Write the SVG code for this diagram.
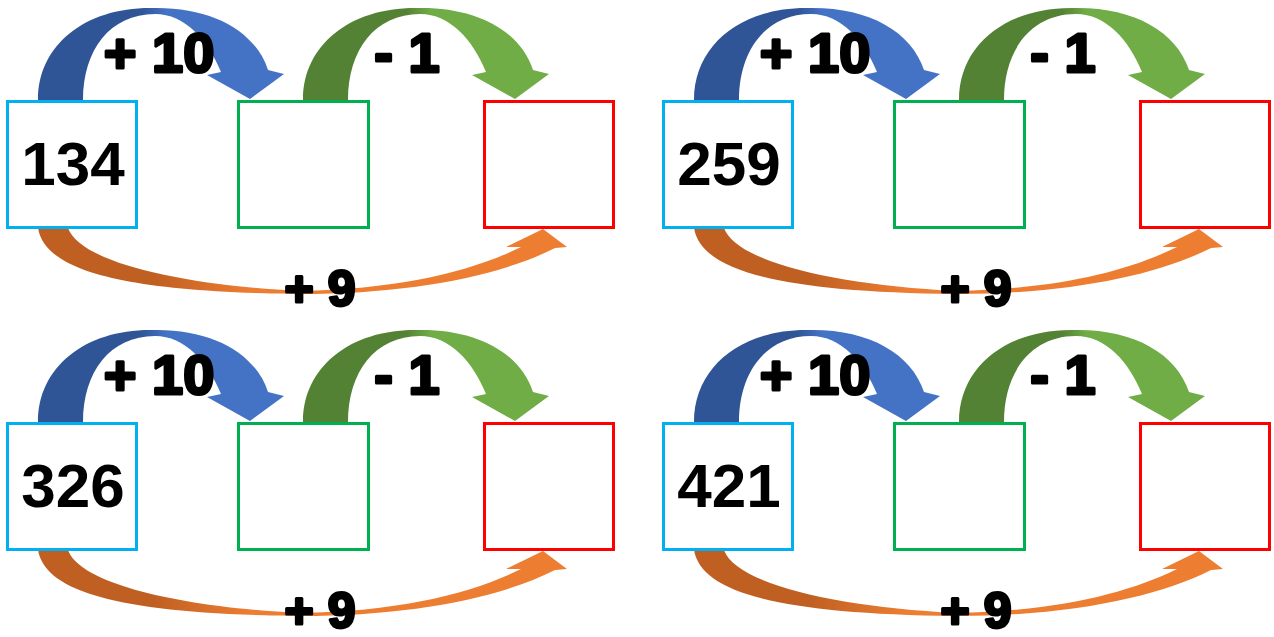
<svg xmlns="http://www.w3.org/2000/svg" xmlns:xlink="http://www.w3.org/1999/xlink" width="1274" height="637" viewBox="0 0 1274 637">
  <style>
    .box { fill: #ffffff; stroke-width: 3; }
    .b1 { stroke: #00B0F0; }
    .b2 { stroke: #00B050; }
    .b3 { stroke: #FF0000; }
    .num { font-family: "Liberation Sans", Arial, sans-serif; font-weight: bold; font-size: 62px; fill: #000000; text-anchor: middle; }
    .op { font-family: "Liberation Sans", Arial, sans-serif; font-weight: bold; fill: #000000; stroke: #000000; stroke-width: 3; stroke-linejoin: round; text-anchor: middle; }
    .op1 { font-size: 56px; }
    .op2 { font-size: 50px; }
  </style>
  <defs>
    <linearGradient id="gBlue" gradientUnits="userSpaceOnUse" x1="38" y1="0" x2="284" y2="0">
      <stop offset="0" stop-color="#2F5597"/>
      <stop offset="0.42" stop-color="#2F5597"/>
      <stop offset="0.52" stop-color="#4472C4"/>
      <stop offset="1" stop-color="#4472C4"/>
    </linearGradient>
    <linearGradient id="gGreen" gradientUnits="userSpaceOnUse" x1="38" y1="0" x2="284" y2="0">
      <stop offset="0" stop-color="#548235"/>
      <stop offset="0.42" stop-color="#548235"/>
      <stop offset="0.52" stop-color="#70AD47"/>
      <stop offset="1" stop-color="#70AD47"/>
    </linearGradient>
    <linearGradient id="gOrange" gradientUnits="userSpaceOnUse" x1="38" y1="0" x2="567" y2="0">
      <stop offset="0" stop-color="#C05F22"/>
      <stop offset="0.22" stop-color="#C05F22"/>
      <stop offset="0.4" stop-color="#ED7D31"/>
      <stop offset="1" stop-color="#ED7D31"/>
    </linearGradient>
    <path id="arcTop" d="M38,100 C38,45 85,8 150,8 C210,6 255,30 268,70 L284,74 L250,99 L207,75 L221,72 C208,40 185,14 155,14 C110,14 83,50 83,100 Z"/>
    <path id="arcBottom" d="M38,228 C45,270 120,292 300,294 C410,294 500,276 555,248 L567,247 L543,229 L506,247 L521,247 C470,272 400,289 300,291 C180,285 80,262 68,228 Z"/>
  </defs>
  <rect width="1274" height="637" fill="#ffffff"/>

  <g id="panel1">
    <g id="connectors1">
      <use xlink:href="#arcTop" fill="url(#gBlue)"/>
      <use xlink:href="#arcTop" x="265" fill="url(#gGreen)"/>
      <use xlink:href="#arcBottom" fill="url(#gOrange)"/>
      <text class="op op1" x="159" y="72">+ 10</text>
      <text class="op op1" x="407" y="72">- 1</text>
      <text class="op op2" x="320" y="306">+ 9</text>
    </g>
    <g id="p1-start"><rect class="box b1" x="7.5" y="101.5" width="129" height="126"/><text class="num" x="73" y="185">134</text></g>
    <g id="p1-middle"><rect class="box b2" x="238.5" y="101.5" width="130" height="126"/></g>
    <g id="p1-end"><rect class="box b3" x="484.5" y="101.5" width="129" height="126"/></g>
  </g>

  <g id="panel2" transform="translate(656,0)">
    <g id="connectors2">
      <use xlink:href="#arcTop" fill="url(#gBlue)"/>
      <use xlink:href="#arcTop" x="265" fill="url(#gGreen)"/>
      <use xlink:href="#arcBottom" fill="url(#gOrange)"/>
      <text class="op op1" x="159" y="72">+ 10</text>
      <text class="op op1" x="407" y="72">- 1</text>
      <text class="op op2" x="320" y="306">+ 9</text>
    </g>
    <g id="p2-start"><rect class="box b1" x="7.5" y="101.5" width="129" height="126"/><text class="num" x="73" y="185">259</text></g>
    <g id="p2-middle"><rect class="box b2" x="238.5" y="101.5" width="130" height="126"/></g>
    <g id="p2-end"><rect class="box b3" x="484.5" y="101.5" width="129" height="126"/></g>
  </g>

  <g id="panel3" transform="translate(0,322)">
    <g id="connectors3">
      <use xlink:href="#arcTop" fill="url(#gBlue)"/>
      <use xlink:href="#arcTop" x="265" fill="url(#gGreen)"/>
      <use xlink:href="#arcBottom" fill="url(#gOrange)"/>
      <text class="op op1" x="159" y="72">+ 10</text>
      <text class="op op1" x="407" y="72">- 1</text>
      <text class="op op2" x="320" y="306">+ 9</text>
    </g>
    <g id="p3-start"><rect class="box b1" x="7.5" y="101.5" width="129" height="126"/><text class="num" x="73" y="185">326</text></g>
    <g id="p3-middle"><rect class="box b2" x="238.5" y="101.5" width="130" height="126"/></g>
    <g id="p3-end"><rect class="box b3" x="484.5" y="101.5" width="129" height="126"/></g>
  </g>

  <g id="panel4" transform="translate(656,322)">
    <g id="connectors4">
      <use xlink:href="#arcTop" fill="url(#gBlue)"/>
      <use xlink:href="#arcTop" x="265" fill="url(#gGreen)"/>
      <use xlink:href="#arcBottom" fill="url(#gOrange)"/>
      <text class="op op1" x="159" y="72">+ 10</text>
      <text class="op op1" x="407" y="72">- 1</text>
      <text class="op op2" x="320" y="306">+ 9</text>
    </g>
    <g id="p4-start"><rect class="box b1" x="7.5" y="101.5" width="129" height="126"/><text class="num" x="73" y="185">421</text></g>
    <g id="p4-middle"><rect class="box b2" x="238.5" y="101.5" width="130" height="126"/></g>
    <g id="p4-end"><rect class="box b3" x="484.5" y="101.5" width="129" height="126"/></g>
  </g>
</svg>
